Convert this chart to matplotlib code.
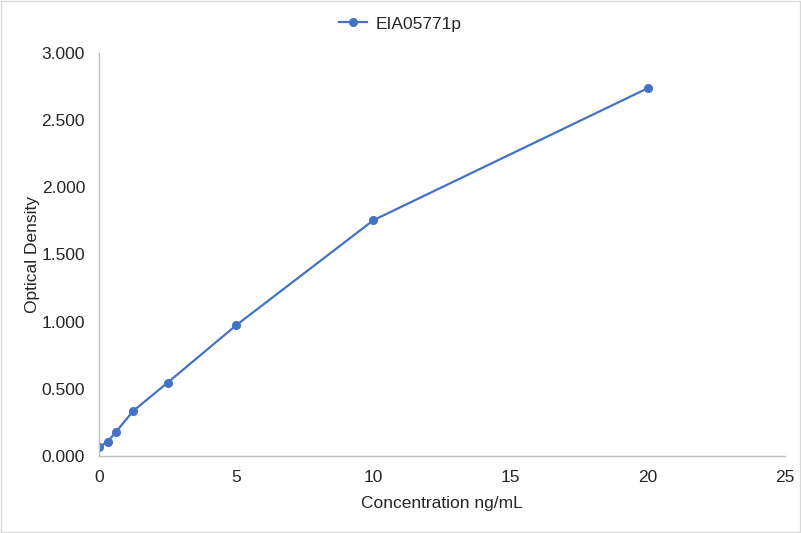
import matplotlib
matplotlib.use('Agg')
import matplotlib.pyplot as plt

plt.rcParams['font.family'] = ['Liberation Sans', 'DejaVu Sans']

concentration = [0, 0.3125, 0.625, 1.25, 2.5, 5, 10, 20]
optical_density = [0.065, 0.107, 0.181, 0.336, 0.546, 0.973, 1.755, 2.738]
x_ticks = [0, 5, 10, 15, 20, 25]
y_ticks = [0, 0.5, 1.0, 1.5, 2.0, 2.5, 3.0]

line_color = '#4472C4'
text_color = '#262626'
axis_color = '#BFBFBF'

fig = plt.figure(figsize=(8.01, 5.33), dpi=100)
ax = fig.add_axes([0.1236, 0.1445, 0.8564, 0.7561])

ax.plot(concentration, optical_density, color=line_color, linewidth=1.6,
        marker='o', markersize=5.5, label='EIA05771p')

ax.set_xlim(0, 25)
ax.set_ylim(0, 3)
ax.set_xticks(x_ticks)
ax.set_yticks(y_ticks)
ax.set_yticklabels([f"{v:.3f}" for v in y_ticks])

for side in ['top', 'right']:
    ax.spines[side].set_visible(False)
for side in ['left', 'bottom']:
    ax.spines[side].set_color(axis_color)
    ax.spines[side].set_linewidth(1.0)

ax.tick_params(axis='x', length=0, labelsize=12.5, colors=text_color, pad=10)
ax.tick_params(axis='y', length=0, labelsize=12.5, colors=text_color, pad=10)
ax.set_xlabel('Concentration ng/mL', fontsize=12.5, color=text_color, labelpad=8)
ax.set_ylabel('Optical Density', fontsize=12.5, color=text_color, labelpad=1)

fig.legend(loc='center', bbox_to_anchor=(0.5, 0.955), frameon=False,
           fontsize=12.5, labelcolor=text_color, handlelength=1.6, handletextpad=0.5)

# light border around the chart area
fig.patches.append(plt.Rectangle((0.001, 0.001), 0.998, 0.998, transform=fig.transFigure,
                                 fill=False, edgecolor='#D9D9D9', linewidth=1))

fig.savefig('out.png', dpi=100)
